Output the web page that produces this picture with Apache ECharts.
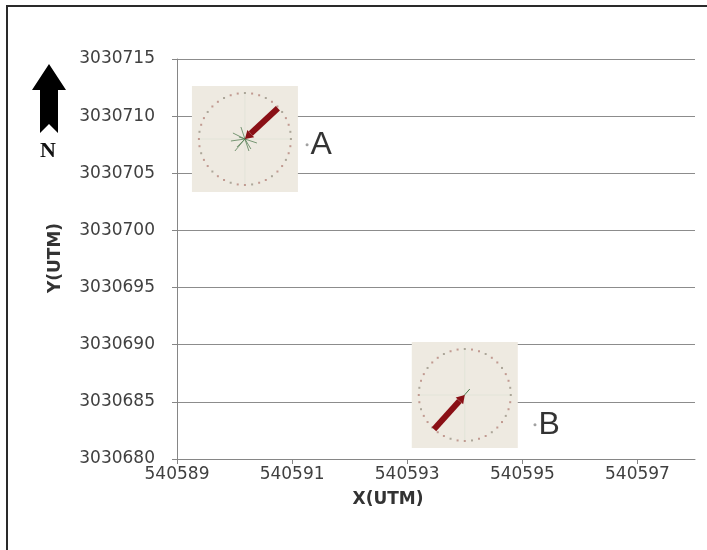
<!DOCTYPE html>
<html>
<head>
<meta charset="utf-8">
<script src="https://cdn.jsdelivr.net/npm/echarts@6/dist/echarts.min.js"></script>
<style>html,body{margin:0;padding:0;background:#fff}#c{width:707px;height:550px}</style>
</head>
<body>
<div id="c"></div>
<script>
// ---- data ----
const xTicks = [540589, 540591, 540593, 540595, 540597];
const yTicks = [3030680, 3030685, 3030690, 3030695, 3030700, 3030705, 3030710, 3030715];
const pointNames = ['A', 'B'];
const pointX = [540591.26, 540595.22];
const pointY = [3030707.5, 3030683.0];
// rose-diagram insets (centre coordinates, arrow "from" bearing in degrees, relative arrow length)
const roseX = [540590.18, 540594.0];
const roseY = [3030708.0, 3030685.6];
const roseBearing = [47, 222];
const roseMagnitude = [0.98, 1.0];

const chart = echarts.init(document.getElementById('c'), null, {renderer: 'canvas'});

const labelFont = {fontFamily: 'DejaVu Sans', fontSize: 17, color: '#404040'};

function renderRose(params, api) {
  const c = api.coord([api.value(0), api.value(1)]);
  const bearing = api.value(2) * Math.PI / 180;
  const mag = api.value(3);
  const half = 53, R = 46;
  const ch = [];
  ch.push({type: 'rect', shape: {x: c[0] - half, y: c[1] - half, width: 2 * half, height: 2 * half}, style: {fill: '#eeeae1'}});
  ch.push({type: 'line', shape: {x1: c[0] - half + 6, y1: c[1], x2: c[0] + half - 6, y2: c[1]}, style: {stroke: '#e2e4d8', lineWidth: 1}});
  ch.push({type: 'line', shape: {x1: c[0], y1: c[1] - half + 6, x2: c[0], y2: c[1] + half - 6}, style: {stroke: '#e2e4d8', lineWidth: 1}});
  const n = 40;
  for (let i = 0; i < n; i++) {
    const a = i / n * 2 * Math.PI;
    ch.push({type: 'rect', shape: {x: c[0] + R * Math.cos(a) - 1, y: c[1] + R * Math.sin(a) - 1, width: 2, height: 2},
      style: {fill: i % 3 === 0 ? '#a09a8c' : '#b98c82', opacity: 0.85}});
  }
  if (params.dataIndex === 0) {
    const g = [[-12,-6],[-8,8],[6,10],[-14,2],[10,-8],[-4,-12],[4,12],[-10,12],[12,4],[-6,-2]];
    g.forEach(p => ch.push({type: 'line', shape: {x1: c[0], y1: c[1], x2: c[0] + p[0], y2: c[1] + p[1]}, style: {stroke: '#4f7a4f', lineWidth: 1, opacity: 0.75}}));
  } else {
    ch.push({type: 'line', shape: {x1: c[0] - 2, y1: c[1] + 2, x2: c[0] + 5, y2: c[1] - 6}, style: {stroke: '#4f7a4f', lineWidth: 1}});
  }
  const L = R * mag;
  const sx = c[0] + L * Math.sin(bearing), sy = c[1] - L * Math.cos(bearing);
  const ux = (c[0] - sx) / L, uy = (c[1] - sy) / L;
  const hx = c[0] - ux * 8, hy = c[1] - uy * 8;
  ch.push({type: 'line', shape: {x1: sx, y1: sy, x2: hx, y2: hy}, style: {stroke: '#8a1016', lineWidth: 6}});
  ch.push({type: 'polygon', shape: {points: [[c[0], c[1]], [hx - uy * 5, hy + ux * 5], [hx + uy * 5, hy - ux * 5]]}, style: {fill: '#8a1016'}});
  return {type: 'group', children: ch};
}

chart.setOption({
  animation: false,
  backgroundColor: '#ffffff',
  grid: {left: 177, right: 12, top: 59, bottom: 91, containLabel: false},
  xAxis: {
    type: 'value', min: 540589, max: 540598,
    splitLine: {show: false},
    axisLine: {show: true, onZero: false, lineStyle: {color: '#868686', width: 1}},
    axisTick: {show: true, length: 5, inside: false, customValues: xTicks, lineStyle: {color: '#868686'}},
    axisLabel: {customValues: xTicks, margin: 7, ...labelFont, formatter: v => String(v)}
  },
  yAxis: {
    type: 'value', min: 3030680, max: 3030715, interval: 5,
    splitLine: {show: true, lineStyle: {color: '#8c8c8c', width: 1}},
    axisLine: {show: true, onZero: false, lineStyle: {color: '#868686', width: 1}},
    axisTick: {show: true, length: 5, lineStyle: {color: '#868686'}},
    axisLabel: {margin: 22, ...labelFont, formatter: v => String(v)}
  },
  series: [
    {
      type: 'custom', renderItem: renderRose, z: 3, clip: false,
      data: roseX.map((x, i) => [x, roseY[i], roseBearing[i], roseMagnitude[i]])
    },
    {
      type: 'scatter', z: 4, symbol: 'circle', symbolSize: 3,
      itemStyle: {color: '#8a8a8a'},
      label: {show: true, position: 'right', distance: 2, formatter: p => pointNames[p.dataIndex],
        fontFamily: 'Liberation Sans', fontSize: 32, color: '#000', textBorderWidth: 0},
      data: pointX.map((x, i) => [x, pointY[i]])
    }
  ],
  graphic: [
    {type: 'rect', shape: {x: 7, y: 6, width: 730, height: 570}, style: {fill: 'none', stroke: '#2a2a2a', lineWidth: 2}, z: 10},
    {type: 'polygon', shape: {points: [[49, 64], [66, 90], [58, 90], [58, 133], [49, 124], [40, 133], [40, 90], [32, 90]]}, style: {fill: '#000'}},
    {type: 'text', x: 48, y: 151, style: {text: 'N', font: 'bold 22px "Liberation Serif"', fill: '#111', align: 'center', verticalAlign: 'middle'}},
    {type: 'text', x: 56, y: 258, rotation: Math.PI / 2, style: {text: 'Y(UTM)', font: 'bold 17px "DejaVu Sans"', fill: '#333', align: 'center', verticalAlign: 'middle'}},
    {type: 'text', x: 388, y: 500, style: {text: 'X(UTM)', font: 'bold 17px "DejaVu Sans"', fill: '#333', align: 'center', verticalAlign: 'middle'}}
  ]
});
</script>
</body>
</html>
